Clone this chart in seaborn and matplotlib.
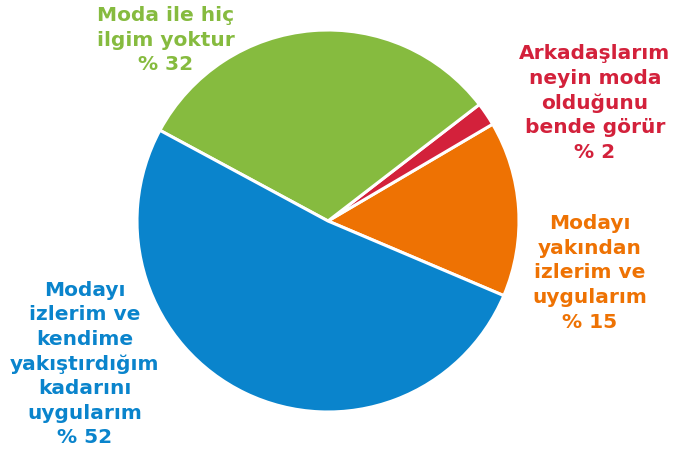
import matplotlib
matplotlib.use("Agg")
import matplotlib.pyplot as plt
import seaborn as sns

# Data
categories = [
    "Modayı\nyakından\nizlerim ve\nuygularım",
    "Arkadaşlarım\nneyin moda\nolduğunu\nbende görür",
    "Moda ile hiç\nilgim yoktur",
    "Modayı\nizlerim ve\nkendime\nyakıştırdığım\nkadarını\nuygularım",
]
values = [15, 2, 32, 52]
value_labels = ["% 15", "% 2", "% 32", "% 52"]
colors = ["#EE7203", "#D3213B", "#86BB3F", "#0A84CC"]

sns.set_theme(style="white")
plt.rcParams['font.family'] = ['DejaVu Sans']

W, H = 680, 462
fig = plt.figure(figsize=(W / 100, H / 100), dpi=100)
ax = fig.add_axes([0, 0, 1, 1])

palette = sns.color_palette(colors)
ax.pie(values, colors=palette, startangle=-23, counterclock=True,
       center=(328, H - 221), radius=191, frame=True,
       wedgeprops=dict(edgecolor="white", linewidth=2.2))
ax.set_xlim(0, W)
ax.set_ylim(0, H)
ax.set_aspect("equal")
ax.axis("off")

# label positions (pixel coords, y from top)
label_pos = [(590, 273), (595, 103), (166, 40), (85, 364)]
for cat, vl, col, (x, y) in zip(categories, value_labels, colors, label_pos):
    ax.text(x, H - y, cat + "\n" + vl, color=col, fontsize=14.5, fontweight="bold",
            ha="center", va="center", linespacing=1.37)

fig.savefig("out.png", dpi=100)
